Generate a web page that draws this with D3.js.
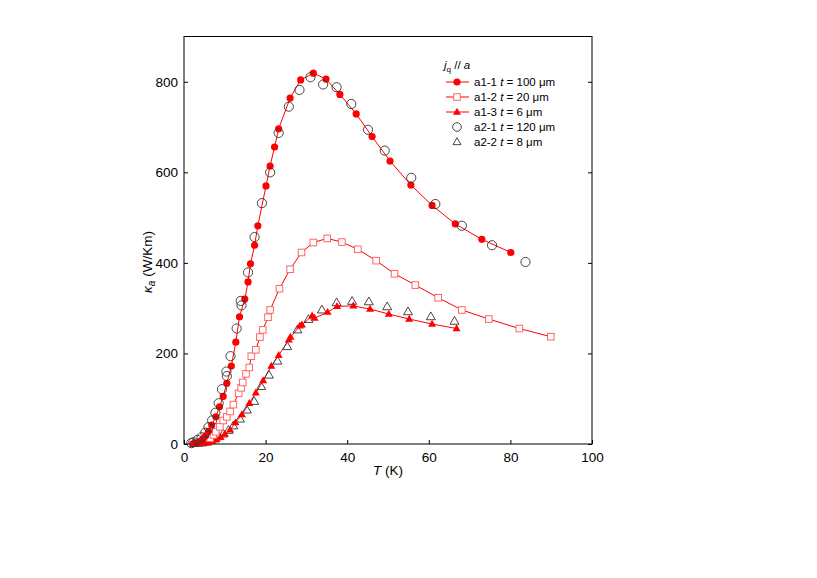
<!DOCTYPE html>
<html><head><meta charset="utf-8">
<script src="https://cdn.jsdelivr.net/npm/d3@7"></script>
<style>body{margin:0;background:#fff}svg{font-family:"Liberation Sans",Arial,sans-serif}</style>
</head><body><svg id="c" width="817" height="578"></svg>
<script>
// a1-1 t = 100 um (filled red circles, line)
const a11T = [2.2,2.8,3.4,4.0,4.6,5.3,6.0,6.8,7.8,8.7,9.6,10.5,11.6,12.7,13.6,14.9,15.7,16.3,17.3,18.1,20.1,21.1,22.2,23.2,26.0,28.6,31.7,34.8,38.2,42.2,46.1,50.5,55.6,60.8,66.5,73.0,80.1];
const a11K = [0.5,1.5,3,6,11,18,28,42,60,82,105,134,172,225,281,320,358,398,439,482,570,614,656,696,764,804,819,806,772,729,679,625,572,527,486,452,423];
// a1-2 t = 20 um (open red squares, line)
const a12T = [6.4,7.2,7.8,8.8,9.6,10.5,11.3,12.1,13.4,14.0,14.4,15.2,16.0,16.5,17.6,18.6,19.3,20.6,21.1,23.4,26.0,28.8,31.7,35.1,38.7,42.6,47.1,51.6,56.7,62.3,68.1,74.7,82.2,89.9];
const a12K = [13,20,27,38,52,60,72,87,112,124,136,155,169,194,208,236,252,280,296,343,386,423,445,454,446,430,405,376,351,323,296,276,255,237];
// a1-3 t = 6 um (filled red triangles, line)
const a13T = [5.0,6.0,7.0,8.0,9.0,10.0,11.3,12.6,14.2,16.0,17.6,19.4,21.4,23.2,25.7,26.1,28.4,28.9,31.4,32.0,35.2,37.5,41.5,45.6,50.2,55.2,60.8,66.8];
const a13K = [2,3,6,10,15,22,31,47,65,90,113,140,172,196,230,236,261,263,283,278,291,304,305,298,287,276,265,255];
// a2-1 t = 120 um (open black circles)
const a21T = [1.8,2.3,3.3,4.3,5.2,6.0,6.9,7.7,8.5,9.3,10.4,10.5,11.4,12.9,13.9,14.1,15.7,17.3,19.1,21.1,23.2,25.7,28.3,31.0,34.1,37.4,41.0,45.1,49.2,55.7,61.6,68.1,75.5,83.7];
const a21K = [2,4,9,15,25,37,52,69,90,121,160,150,194,255,316,306,379,457,532,600,687,745,782,810,794,788,751,694,648,588,530,482,439,402];
// a2-2 t = 8 um (open black triangles)
const a22T = [2.5,3.5,4.5,5.5,6.5,7.5,8.5,9.6,10.9,12.1,13.7,15.4,17.2,18.9,20.8,22.9,25.3,27.8,30.5,33.8,37.4,41.2,45.3,49.8,54.9,60.5,66.3];
const a22K = [1,1.5,2.5,4,7,11,16,22,30,40,55,75,94,127,152,183,215,252,275,296,312,315,314,303,292,281,271];

const xTicks = [0,20,40,60,80,100];
const yTicks = [0,200,400,600,800];
const legendLabels = ["a1-1","a1-2","a1-3","a2-1","a2-2"];
const legendT = ["100","20","6","120","8"];

const svg = d3.select("#c");
const L=184,R=592,T0=36.5,B=444;
const x = d3.scaleLinear().domain([0,100]).range([L,R]);
const y = d3.scaleLinear().domain([0,900]).range([B,T0]);

// frame
svg.append("rect").attr("x",L).attr("y",T0).attr("width",R-L).attr("height",B-T0)
  .attr("fill","none").attr("stroke","#000").attr("stroke-width",1);

const fs = 13.5;
const xa = svg.append("g").attr("transform",`translate(0,${B})`)
  .call(d3.axisBottom(x).tickValues(xTicks).tickSize(-4).tickPadding(8).tickFormat(d3.format("d")));
const ya = svg.append("g").attr("transform",`translate(${L},0)`)
  .call(d3.axisLeft(y).tickValues(yTicks).tickSize(-4).tickPadding(6).tickFormat(d3.format("d")));
const yr = svg.append("g").attr("transform",`translate(${R},0)`)
  .call(d3.axisRight(y).tickValues(yTicks).tickSize(-4).tickFormat(""));
[xa,ya,yr].forEach(g=>{g.select(".domain").remove();
  g.selectAll("text").attr("font-size",fs).attr("font-family","Liberation Sans, Arial, sans-serif").attr("fill","#000");
  g.selectAll("line").attr("stroke","#000");});

// axis labels
const xl = svg.append("text").attr("x",388).attr("y",475).attr("text-anchor","middle").attr("font-size",fs);
xl.append("tspan").attr("font-style","italic").text("T");
xl.append("tspan").text(" (K)");
const yl = svg.append("text").attr("transform","translate(152,262) rotate(-90)").attr("text-anchor","middle").attr("font-size",fs);
yl.append("tspan").attr("font-style","italic").text("κ");
yl.append("tspan").attr("font-style","italic").attr("font-size",10).attr("dy",3).text("a");
yl.append("tspan").attr("dy",-3).text(" (W/Km)");

const red="#ff0000", pink="#ff6666";
const line = d3.line().x(d=>x(d[0])).y(d=>y(d[1]));
const zip=(a,b)=>a.map((v,i)=>[v,b[i]]);
const triPath = s => { const h=s*0.866; return `M0,${-h*0.62}L${s/2},${h*0.38}L${-s/2},${h*0.38}Z`; };

// lines
svg.append("path").attr("d",line(zip(a12T,a12K))).attr("fill","none").attr("stroke",red).attr("stroke-width",1);
svg.append("path").attr("d",line(zip(a13T,a13K))).attr("fill","none").attr("stroke",red).attr("stroke-width",1);
svg.append("path").attr("d",line(zip(a11T,a11K))).attr("fill","none").attr("stroke",red).attr("stroke-width",1);

// a2-2 open triangles
svg.append("g").selectAll("path").data(zip(a22T,a22K)).join("path")
  .attr("transform",d=>`translate(${x(d[0])},${y(d[1])})`).attr("d",triPath(9))
  .attr("fill","none").attr("stroke","#333").attr("stroke-width",0.9);
// a1-3 filled triangles
svg.append("g").selectAll("path").data(zip(a13T,a13K)).join("path")
  .attr("transform",d=>`translate(${x(d[0])},${y(d[1])})`).attr("d",triPath(8))
  .attr("fill",red).attr("stroke","none");
// a1-2 open squares
svg.append("g").selectAll("rect").data(zip(a12T,a12K)).join("rect")
  .attr("x",d=>x(d[0])-3.3).attr("y",d=>y(d[1])-3.3).attr("width",6.6).attr("height",6.6)
  .attr("fill","#fff").attr("stroke",pink).attr("stroke-width",1);
// a1-1 filled circles
svg.append("g").selectAll("circle").data(zip(a11T,a11K)).join("circle")
  .attr("cx",d=>x(d[0])).attr("cy",d=>y(d[1])).attr("r",3.6).attr("fill",red);
// a2-1 open circles
svg.append("g").selectAll("circle").data(zip(a21T,a21K)).join("circle")
  .attr("cx",d=>x(d[0])).attr("cy",d=>y(d[1])).attr("r",4.6)
  .attr("fill","none").attr("stroke","#333").attr("stroke-width",0.9);

// legend
const lg = svg.append("g").attr("font-size",11.5);
const tt = lg.append("text").attr("x",444).attr("y",69);
tt.append("tspan").attr("font-style","italic").text("j");
tt.append("tspan").attr("font-size",8).attr("dy",3).text("q");
tt.append("tspan").attr("dy",-3).text(" // ");
tt.append("tspan").attr("font-style","italic").text("a");
const rowsY=[82,97,112,127,142];
legendLabels.forEach((lab,i)=>{
  const yy=rowsY[i], cx=457;
  if(i<3) lg.append("line").attr("x1",446).attr("x2",469).attr("y1",yy).attr("y2",yy).attr("stroke",red);
  if(i===0) lg.append("circle").attr("cx",cx).attr("cy",yy).attr("r",3.6).attr("fill",red);
  if(i===1) lg.append("rect").attr("x",cx-3.3).attr("y",yy-3.3).attr("width",6.6).attr("height",6.6).attr("fill","#fff").attr("stroke",pink);
  if(i===2) lg.append("path").attr("transform",`translate(${cx},${yy})`).attr("d",triPath(8)).attr("fill",red);
  if(i===3) lg.append("circle").attr("cx",cx).attr("cy",yy).attr("r",4.3).attr("fill","none").attr("stroke","#333").attr("stroke-width",0.9);
  if(i===4) lg.append("path").attr("transform",`translate(${cx},${yy})`).attr("d",triPath(8)).attr("fill","none").attr("stroke","#333").attr("stroke-width",0.9);
  const t = lg.append("text").attr("x",474).attr("y",yy+4);
  t.append("tspan").text(lab+" ");
  t.append("tspan").attr("font-style","italic").text("t");
  t.append("tspan").text(" = "+legendT[i]+" μm");
});
</script></body></html>
